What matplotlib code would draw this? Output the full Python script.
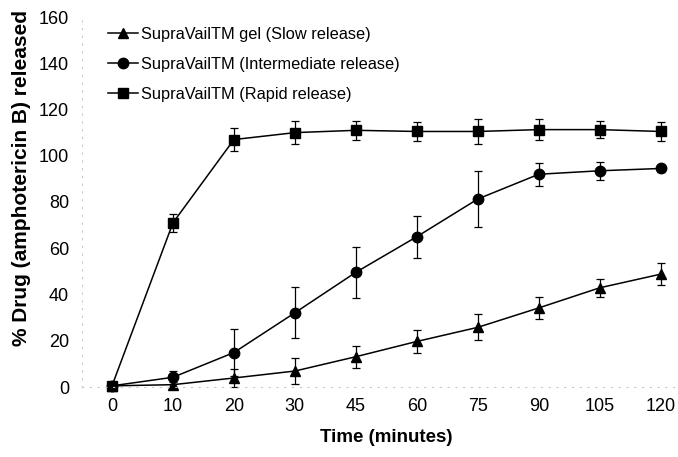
import matplotlib
matplotlib.use("Agg")
import matplotlib.pyplot as plt
import numpy as np

plt.rcParams['font.family'] = ['Liberation Sans', 'DejaVu Sans']

# sampling times (minutes), drawn as evenly spaced categories
times = ["0", "10", "20", "30", "45", "60", "75", "90", "105", "120"]

# % amphotericin B released
slow = [0.5, 1.0, 3.9, 6.9, 13.1, 19.7, 25.8, 34.2, 42.9, 48.8]
slow_err = [0.5, 1.0, 4.0, 5.5, 4.7, 4.8, 5.6, 4.6, 3.8, 4.8]

intermediate = [0.5, 4.2, 14.9, 32.1, 49.6, 65.0, 81.3, 92.0, 93.5, 94.5]
intermediate_err = [0.5, 2.7, 10.2, 11.0, 10.9, 9.0, 12.3, 5.0, 4.0, 1.5]

rapid = [0.5, 71.0, 107.0, 110.0, 111.0, 110.5, 110.5, 111.3, 111.3, 110.5]
rapid_err = [0.5, 4.0, 5.0, 5.0, 4.0, 4.3, 5.3, 4.5, 3.8, 4.3]

labels = ["SupraVailTM gel (Slow release)",
          "SupraVailTM (Intermediate release)",
          "SupraVailTM (Rapid release)"]

W, H = 678, 457
fig = plt.figure(figsize=(W / 100, H / 100), dpi=100)
ax = fig.add_axes([81.5 / W, (H - 387) / H, (679 - 81.5) / W, (387 - 17) / H])

x = np.arange(len(times))
series = [(slow, slow_err, "^", 7),
          (intermediate, intermediate_err, "o", 7.5),
          (rapid, rapid_err, "s", 7.5)]
handles = []
for vals, errs, mk, ms in series:
    h = ax.errorbar(x, vals, yerr=errs, color="black", marker=mk, markersize=ms,
                    linewidth=1.1, elinewidth=0.9, capsize=3, capthick=0.9,
                    clip_on=False)
    handles.append(h[0])

ax.set_xlim(-0.5, 9.3)
ax.set_ylim(0, 160)
ax.set_xticks(x)
ax.set_xticklabels(times)
ax.set_yticks(np.arange(0, 161, 20))
ax.tick_params(axis="x", length=0, pad=8, labelsize=13)
ax.tick_params(axis="y", length=0, pad=9, labelsize=13)

for side in ["top", "right"]:
    ax.spines[side].set_visible(False)
for side in ["left", "bottom"]:
    ax.spines[side].set_color("#c8c8c8")
    ax.spines[side].set_linestyle((0, (1, 6)))
    ax.spines[side].set_linewidth(0.8)

# axis titles placed where they sit in the original
fig.text(386 / W, 1 - 438 / H, "Time (minutes)", fontsize=13.5,
         fontweight="bold", ha="center", va="center")
fig.text(22 / W, 1 - 178 / H, "% Drug (amphotericin B) released", fontsize=15,
         fontweight="bold", ha="center", va="center", rotation=90)

leg = ax.legend(handles, labels, loc="upper left",
                bbox_to_anchor=(101 / W, (H - 20) / H),
                bbox_transform=fig.transFigure, frameon=False,
                fontsize=11.8, handlelength=1.85, handletextpad=0.2,
                labelspacing=0.92, borderaxespad=0)

fig.savefig("out.png", dpi=100)
